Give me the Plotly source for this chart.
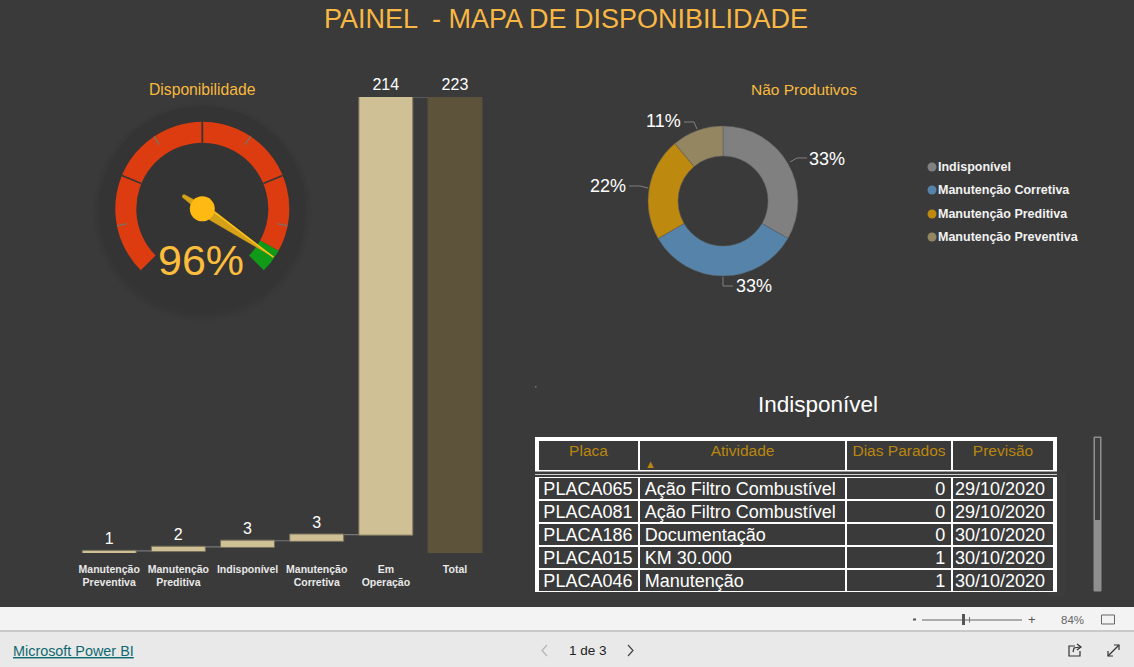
import math
import plotly.graph_objects as go

W, H = 1134, 667
FONT = "Liberation Sans"
BG = "#3a3a3a"
GOLD = "#f7b93e"

# ---------- data ----------
bar_categories = ["Manutenção<br>Preventiva", "Manutenção<br>Preditiva", "Indisponível",
                  "Manutenção<br>Corretiva", "Em<br>Operação", "Total"]
bar_values = [1, 2, 3, 3, 214, 223]
bar_measures = ["relative", "relative", "relative", "relative", "relative", "total"]

donut_labels = ["Indisponível", "Manutenção Corretiva", "Manutenção Preditiva", "Manutenção Preventiva"]
donut_values = [3, 3, 2, 1]
donut_colors = ["#808080", "#5583aa", "#bd8a0f", "#948660"]

gauge_value = 96
gauge_min, gauge_max = 0, 100
gauge_band_edges = [0, 94, 100]
gauge_band_colors = ["#dc3c10", "#109a18"]
gauge_major_ticks = [25, 50, 75]
gauge_minor_ticks = [12.5, 37.5, 62.5, 87.5]

table_header = ["Placa", "Atividade", "Dias\u00a0Parados", "Previsão"]
table_placa = ["PLACA065", "PLACA081", "PLACA186", "PLACA015", "PLACA046"]
table_atividade = ["Ação\u00a0Filtro\u00a0Combustível", "Ação\u00a0Filtro\u00a0Combustível",
                   "Documentação", "KM\u00a030.000", "Manutenção"]
table_dias = [0, 0, 0, 1, 1]
table_previsao = ["29/10/2020", "29/10/2020", "30/10/2020", "30/10/2020", "30/10/2020"]


def px(x):
    return x / W


def py(y):
    return 1 - y / H


fig = go.Figure()

# ---------- waterfall ----------
fig.add_trace(go.Waterfall(
    x=bar_categories, y=bar_values, measure=bar_measures,
    text=[str(v) for v in bar_values], textposition="outside",
    outsidetextfont=dict(family=FONT, size=16, color="#ffffff"),
    cliponaxis=False,
    increasing=dict(marker=dict(color="#cfc095", line=dict(color="#77705c", width=1))),
    totals=dict(marker=dict(color="#5c533a", line=dict(color="#5c533a", width=1))),
    connector=dict(line=dict(color="#777777", width=1.2)),
    showlegend=False, hoverinfo="skip",
))
fig.update_layout(
    waterfallgap=0.22,
    xaxis=dict(domain=[px(74.6), px(489.6)], showgrid=False, zeroline=False, showline=False,
               ticks="outside", ticklen=6, tickcolor="rgba(0,0,0,0)", tickangle=0,
               tickfont=dict(family=FONT, size=10.5, color="#e8e8e8", weight="bold"), fixedrange=True),
    yaxis=dict(domain=[py(553), py(97)], range=[0, 223], visible=False, fixedrange=True),
)

# ---------- gauge on a polar subplot ----------
CX, CY, R = 202.3, 208.8, 110


def val_to_theta(v):
    return -135 + (v - gauge_min) / (gauge_max - gauge_min) * 270


for lo, hi, col in zip(gauge_band_edges[:-1], gauge_band_edges[1:], gauge_band_colors):
    fig.add_trace(go.Barpolar(
        theta=[val_to_theta((lo + hi) / 2)], width=[val_to_theta(hi) - val_to_theta(lo)],
        r=[21], base=[66], marker=dict(color=col, line=dict(width=0)),
        subplot="polar", showlegend=False, hoverinfo="skip"))

for t in gauge_major_ticks:
    fig.add_trace(go.Scatterpolar(r=[66, 87], theta=[val_to_theta(t)] * 2, mode="lines",
                                  line=dict(color="#3a3532", width=1.8), subplot="polar",
                                  showlegend=False, hoverinfo="skip"))
for t in gauge_minor_ticks:
    fig.add_trace(go.Scatterpolar(r=[77, 87], theta=[val_to_theta(t)] * 2, mode="lines",
                                  line=dict(color="#8a6a58", width=1.5), subplot="polar",
                                  showlegend=False, hoverinfo="skip"))

needle_theta = val_to_theta(gauge_value)


def needle_pt(along, side):
    """Point of the needle, along its axis and to one side of it, as (r, theta)."""
    return math.hypot(along, side), needle_theta + math.degrees(math.atan2(side, along))


needle_pts = [needle_pt(*p) for p in [(86, 0), (12, -5), (8, -5), (-14, -2.5), (-23, -1.6),
                                      (-24, 0), (-23, 1.6), (-14, 2.5), (8, 5), (12, 5), (86, 0)]]
fig.add_trace(go.Scatterpolar(
    r=[p[0] for p in needle_pts], theta=[p[1] for p in needle_pts], mode="lines", fill="toself",
    fillcolor="#d5a118", line=dict(color="#d5a118", width=0.5), subplot="polar",
    showlegend=False, hoverinfo="skip"))
edge_pts = [needle_pt(12, -4), needle_pt(86, 0)]
fig.add_trace(go.Scatterpolar(
    r=[p[0] for p in edge_pts], theta=[p[1] for p in edge_pts], mode="lines",
    line=dict(color="#ffc51c", width=1.4), subplot="polar", showlegend=False, hoverinfo="skip"))
fig.add_trace(go.Scatterpolar(
    r=[0], theta=[0], mode="markers", marker=dict(color="#ffb913", size=25, line=dict(width=0)),
    subplot="polar", showlegend=False, hoverinfo="skip"))

fig.update_layout(polar=dict(
    domain=dict(x=[px(CX - R), px(CX + R)], y=[py(CY + R), py(CY - R)]),
    bgcolor="rgba(0,0,0,0)",
    radialaxis=dict(visible=False, range=[0, R]),
    angularaxis=dict(visible=False, direction="clockwise", rotation=90, thetaunit="degrees"),
    barmode="overlay",
))

# ---------- donut ----------
DX, DY, DR = 723, 201, 75
fig.add_trace(go.Pie(
    labels=donut_labels, values=donut_values, sort=False, direction="clockwise", rotation=0,
    hole=0.6, marker=dict(colors=donut_colors, line=dict(color="#5a5a5a", width=0.5)),
    textinfo="none", showlegend=False, hoverinfo="skip",
    domain=dict(x=[px(DX - DR), px(DX + DR)], y=[py(DY + DR), py(DY - DR)]),
))

# ---------- tables ----------
fig.add_trace(go.Table(
    domain=dict(x=[px(538), px(1054)], y=[py(472), py(436)]),
    columnwidth=[101, 207, 106, 102],
    header=dict(values=table_header, height=35, align="center",
                fill_color=BG, line=dict(color="#ffffff", width=2.5),
                font=dict(family=FONT, size=15.5, color="#b9860f")),
    cells=dict(values=[[" "], [" "], [" "], [" "]], height=1),
))
# Body text only: its grid is drawn underneath so the text can sit higher in each row.
fig.add_trace(go.Table(
    domain=dict(x=[px(539), px(1048)], y=[py(596), py(472)]),
    columnwidth=[98, 207, 110, 94],
    header=dict(values=[" ", " ", " ", " "], height=1, fill_color="rgba(0,0,0,0)", line=dict(width=0),
                font=dict(size=1)),
    cells=dict(values=[table_placa, table_atividade, [str(d) for d in table_dias], table_previsao], height=23,
               align=["center", "left", "right", "center"],
               fill_color="rgba(0,0,0,0)", line=dict(width=0),
               font=dict(family=FONT, size=18, color="#ffffff")),
))

# ---------- decoration ----------
shapes = []


def circle(cx, cy, r, color, layer="below", opacity=1):
    shapes.append(dict(type="circle", xref="paper", yref="paper", layer=layer, opacity=opacity,
                       x0=px(cx - r), x1=px(cx + r), y0=py(cy + r), y1=py(cy - r),
                       fillcolor=color, line=dict(width=0)))


def rect(x0, y0, x1, y1, color, layer="below"):
    shapes.append(dict(type="rect", xref="paper", yref="paper", layer=layer,
                       x0=px(x0), x1=px(x1), y0=py(y1), y1=py(y0),
                       fillcolor=color, line=dict(width=0)))


def poly(points, color="#808080", width=1, layer="above"):
    path = "M " + " L ".join(f"{px(x):.5f},{py(y):.5f}" for x, y in points)
    shapes.append(dict(type="path", xref="paper", yref="paper", layer=layer, path=path,
                       line=dict(color=color, width=width)))


# dial with soft shadow
for dr, op in [(7, 0.03), (5, 0.05), (3, 0.07), (1.5, 0.1)]:
    circle(CX, CY + 3, 102.5 + dr, "#262626", opacity=op)
circle(CX, CY, 102.5, "#343434")

# table backing and grid
rect(535, 437, 1057, 592, "#ffffff")
rect(535, 471.5, 1057, 477, BG)
rect(535, 474, 1057, 475, "#d0d0d0")
rect(535, 434, 1057, 437, BG, layer="above")
rect(535, 437, 1057, 441, "#ffffff", layer="above")
grid_x = [(539, 638), (640, 845), (847, 951), (953, 1053)]
for i in range(len(table_placa)):
    y0 = 478 + 23 * i
    for x0, x1 in grid_x:
        rect(x0, y0, x1, y0 + 21, BG)
# scrollbar
shapes.append(dict(type="rect", xref="paper", yref="paper", layer="below",
                   x0=px(1094), x1=px(1101), y0=py(591), y1=py(437), fillcolor="#8f8f8f",
                   line=dict(color="#8f8f8f", width=1)))
rect(1095, 438, 1100, 520, "#3f3f3f")

# footer
rect(0, 607, W, 630, "#f3f3f3")
rect(0, 630, W, 632, "#c9c9c9")
rect(0, 632, W, H, "#e9e9e9")
rect(913, 618.5, 916, 620.5, "#555555")
rect(922, 619.5, 1022, 620.5, "#666666")
rect(962, 614, 965, 625, "#555555")
rect(969, 617, 970, 622.5, "#777777")
poly([(1101.5, 615), (1114.5, 615), (1114.5, 624), (1101.5, 624), (1101.5, 615)], "#666666", 1)
poly([(547, 645), (542, 650.5), (547, 656)], "#b4b4b4", 1.2)
poly([(628, 645), (633, 650.5), (628, 656)], "#444444", 1.2)
# share icon
poly([(1075, 646), (1069, 646), (1069, 656), (1080, 656), (1080, 651)], "#333333", 1.2)
poly([(1073, 652), (1074, 648), (1080, 647)], "#333333", 1.2)
poly([(1077, 644), (1081, 647), (1077, 650)], "#333333", 1.2)
# expand icon
poly([(1108, 656), (1119, 645)], "#333333", 1.2)
poly([(1114, 645), (1119, 645), (1119, 650)], "#333333", 1.2)
poly([(1108, 651), (1108, 656), (1113, 656)], "#333333", 1.2)

# donut leader lines
poly([(790, 162), (797, 158), (807, 158)])
poly([(723, 277), (723, 286), (733, 286)])
poly([(648, 188), (640, 186), (629, 186)])
poly([(697, 129), (694, 122), (684, 122)])

# legend dots
legend_y = [167, 190, 214, 237]
for y, c in zip(legend_y, donut_colors):
    circle(932, y, 4.5, c, layer="above")

# tiny speck
rect(535, 386, 536.5, 387.5, "#777777")

fig.update_layout(shapes=shapes)

# ---------- texts ----------
ann = []


def text(x, y, s, size, color="#ffffff", anchor="center", **font):
    ann.append(dict(xref="paper", yref="paper", x=px(x), y=py(y), text=s, showarrow=False,
                    xanchor=anchor, yanchor="middle", align=anchor,
                    font=dict(family=FONT, size=size, color=color, **font)))


text(566, 19, "PAINEL  - MAPA DE DISPONIBILIDADE", 27, "#f9b744")
text(202.5, 90, "Disponibilidade", 15.7, GOLD)
text(804, 90, "Não Produtivos", 15.5, GOLD)
text(818, 404, "Indisponível", 22.5)
text(201, 260, f"{gauge_value}%", 43, "#fdbd3c")

total = sum(donut_values)
pct = [f"{round(v / total * 100)}%" for v in donut_values]
for (x, y), s in zip([(827, 159), (754, 286), (608, 186), (663, 121)], pct):
    text(x, y, s, 18)

for y, s in zip(legend_y, donut_labels):
    text(936, y, s, 12.5, "#f2f2f2", anchor="left", weight="bold")

text(650, 464, "▲", 11, "#b9860f")

text(73, 651, "<u>Microsoft Power BI</u>", 14.4, "#0f6a70")
text(588, 650, "1 de 3", 13.5, "#222222")
text(1032, 619, "+", 13, "#555555")
text(1072, 620, "84%", 11.5, "#666666")

fig.update_layout(annotations=ann)

fig.update_layout(width=W, height=H, margin=dict(l=0, r=0, t=0, b=0),
                  paper_bgcolor=BG, plot_bgcolor="rgba(0,0,0,0)", showlegend=False)

fig.write_html("out.html", config=dict(displayModeBar=False),
               post_script="document.body.style.margin='0';document.body.style.overflow='hidden';")
